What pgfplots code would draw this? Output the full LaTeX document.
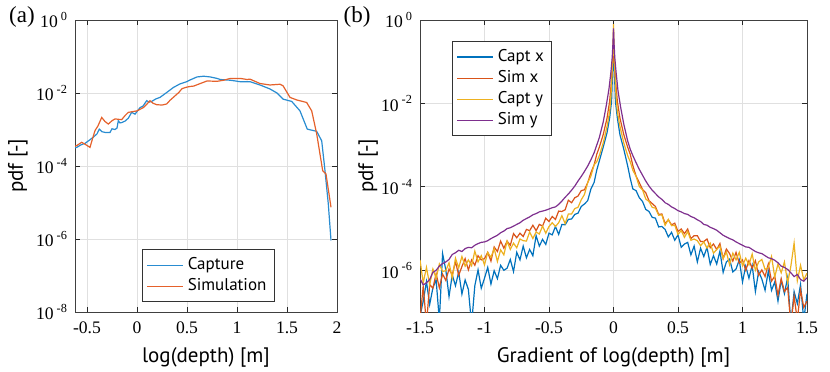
\documentclass[border=0pt]{standalone}
\usepackage{fontspec}
\setmainfont{PT Sans}
\newfontfamily\serif{Liberation Serif}
\usepackage{pgfplots}
\pgfplotsset{compat=1.18}

\definecolor{mblue}{rgb}{0,0.447,0.741}
\definecolor{morange}{rgb}{0.85,0.325,0.098}
\definecolor{myellow}{rgb}{0.929,0.694,0.125}
\definecolor{mpurple}{rgb}{0.494,0.184,0.556}
\definecolor{lblue}{rgb}{0.16,0.55,0.82}
\definecolor{lorange}{rgb}{0.9,0.38,0.17}

\pgfplotsset{
  matlab/.style={
    scale only axis, height=146pt,
    axis line style={black!75, line width=0.5pt},
    grid=major, grid style={black!12, line width=0.5pt},
    major tick style={black!85, line width=0.5pt}, major tick length=2.5pt,
    tick align=inside,
    tick label style={font=\serif\fontsize{8.8}{10}\selectfont},
    xticklabel style={yshift=-1.5pt},
    label style={font=\fontsize{10.5}{12}\selectfont},
    legend style={font=\fontsize{8.5}{10}\selectfont, draw=black!80, line width=0.5pt,
      fill=white, inner sep=2pt, row sep=-1pt},
    legend cell align=left,
    legend image code/.code={\draw[##1] (0pt,0pt) -- (18pt,0pt);},
    every axis plot/.append style={line width=0.6pt, mark=none},
  }
}

\begin{document}
\begin{tikzpicture}
% (a) depth distribution
\begin{axis}[matlab,
    width=131pt,
    xmin=-0.62, xmax=2, ymin=-8, ymax=0,
    xtick={-0.5,0,0.5,1,1.5,2},
    xticklabels={-0.5,0,0.5,1,1.5,2},
    ytick={-8,-6,-4,-2,0},
    yticklabels={10\,\textsuperscript{-8},10\,\textsuperscript{-6},10\,\textsuperscript{-4},10\,\textsuperscript{-2},10\,\textsuperscript{0}},
    xlabel={log(depth) [m]}, ylabel={pdf [-]},
    xlabel style={at={(axis description cs:0.5,-0.154)}, anchor=center},
    ylabel style={at={(axis description cs:-0.218,0.5)}, anchor=center},
    legend style={at={(0.256,0.215)}, anchor=north west},
]
\addplot[lblue] coordinates {
(-0.62,-3.50) (-0.603,-3.49) (-0.56,-3.42) (-0.52,-3.38) (-0.48,-3.30) (-0.437,-3.21)
(-0.40,-3.12) (-0.377,-2.99) (-0.35,-3.06) (-0.32,-3.08) (-0.27,-3.08) (-0.25,-2.98)
(-0.22,-3.0) (-0.20,-2.96) (-0.187,-2.76) (-0.17,-2.82) (-0.153,-2.81) (-0.12,-2.77)
(-0.087,-2.69) (-0.053,-2.53) (-0.02,-2.58) (0.03,-2.40) (0.06,-2.36) (0.097,-2.21)
(0.12,-2.25) (0.147,-2.23) (0.19,-2.16) (0.23,-2.12) (0.3,-1.98) (0.363,-1.85)
(0.43,-1.75) (0.497,-1.69) (0.533,-1.64) (0.6,-1.56) (0.667,-1.54) (0.733,-1.56)
(0.8,-1.6) (0.833,-1.63) (0.933,-1.65) (1.033,-1.69) (1.13,-1.69) (1.23,-1.78)
(1.33,-1.89) (1.40,-2.0) (1.463,-2.17) (1.547,-2.23) (1.63,-2.49) (1.703,-2.99)
(1.797,-3.05) (1.847,-3.31) (1.88,-4.13) (1.913,-5.04) (1.94,-6.04)
};
\addplot[lorange] coordinates {
(-0.62,-3.46) (-0.603,-3.44) (-0.553,-3.35) (-0.51,-3.42) (-0.47,-3.49) (-0.45,-3.3)
(-0.42,-3.03) (-0.39,-2.9) (-0.353,-2.67) (-0.32,-2.78) (-0.287,-2.85) (-0.25,-2.76)
(-0.22,-2.71) (-0.153,-2.73) (-0.12,-2.62) (-0.087,-2.53) (0.0,-2.49) (0.063,-2.40)
(0.1,-2.3) (0.13,-2.21) (0.16,-2.28) (0.197,-2.32) (0.25,-2.33) (0.297,-2.30)
(0.33,-2.2) (0.363,-2.12) (0.42,-1.98) (0.45,-1.88) (0.497,-1.84) (0.533,-1.82)
(0.567,-1.81) (0.633,-1.74) (0.7,-1.67) (0.8,-1.68) (0.867,-1.65) (0.933,-1.60)
(1.033,-1.60) (1.1,-1.63) (1.13,-1.62) (1.23,-1.74) (1.33,-1.78) (1.43,-1.76)
(1.46,-1.8) (1.53,-2.12) (1.597,-2.19) (1.697,-2.26) (1.747,-2.49) (1.797,-3.12)
(1.857,-4.13) (1.89,-4.22) (1.94,-5.13)
};
\legend{Capture,Simulation}
\end{axis}

% (b) gradient distribution
\begin{axis}[matlab,
    at={(172.5pt,0pt)}, anchor=south west,
    width=193.5pt,
    xmin=-1.5, xmax=1.5, ymin=-7, ymax=0,
    xtick={-1.5,-1,-0.5,0,0.5,1,1.5},
    xticklabels={-1.5,-1,-0.5,0,0.5,1,1.5},
    ytick={-6,-4,-2,0},
    yticklabels={10\,\textsuperscript{-6},10\,\textsuperscript{-4},10\,\textsuperscript{-2},10\,\textsuperscript{0}},
    xlabel={Gradient of log(depth) [m]}, ylabel={pdf [-]},
    xlabel style={at={(axis description cs:0.5,-0.154)}, anchor=center},
    ylabel style={at={(axis description cs:-0.134,0.5)}, anchor=center},
    legend style={at={(0.083,0.928)}, anchor=north west},
]
\addplot[mblue] coordinates {
(-1.5,-7.1) (-1.475,-6.74) (-1.45,-6.27) (-1.425,-6.82) (-1.4,-6.42) (-1.375,-6.23)
(-1.35,-7.2) (-1.325,-5.6) (-1.3,-5.99) (-1.275,-6.63) (-1.25,-6.11) (-1.225,-6.37)
(-1.2,-6.04) (-1.175,-6.57) (-1.15,-6.23) (-1.125,-6.46) (-1.1,-7.3) (-1.075,-6.37)
(-1.05,-5.99) (-1.025,-6.43) (-1.0,-6.19) (-0.975,-5.93) (-0.95,-6.33) (-0.925,-6.01)
(-0.9,-6.20) (-0.875,-5.88) (-0.85,-6.00) (-0.825,-5.95) (-0.8,-5.74) (-0.775,-6.03)
(-0.75,-5.57) (-0.725,-5.75) (-0.7,-5.42) (-0.675,-5.70) (-0.65,-5.50) (-0.625,-5.65)
(-0.6,-5.17) (-0.575,-5.42) (-0.55,-5.26) (-0.525,-5.38) (-0.5,-5.11) (-0.475,-5.15)
(-0.45,-4.95) (-0.425,-5.14) (-0.4,-4.90) (-0.375,-4.91) (-0.35,-4.78) (-0.325,-4.77)
(-0.3,-4.66) (-0.275,-4.63) (-0.25,-4.47) (-0.225,-4.41) (-0.2,-4.33) (-0.175,-4.05)
(-0.15,-3.89) (-0.13,-3.6) (-0.11,-3.38) (-0.08,-3.05) (-0.05,-2.7) (-0.03,-2.35)
(-0.015,-1.95) (-0.01,-1.5) (-0.005,-1.1) (0,-0.8) (0.005,-1.1) (0.01,-1.5)
(0.015,-1.95) (0.03,-2.35) (0.05,-2.75) (0.08,-3.1) (0.11,-3.5) (0.13,-3.8)
(0.15,-4.05) (0.175,-4.09) (0.2,-4.26) (0.225,-4.35) (0.25,-4.54) (0.275,-4.59)
(0.3,-4.73) (0.325,-4.75) (0.35,-4.96) (0.375,-4.95) (0.4,-5.02) (0.425,-5.20)
(0.45,-5.09) (0.475,-5.28) (0.5,-5.15) (0.525,-5.45) (0.55,-5.37) (0.575,-5.33)
(0.6,-5.63) (0.625,-5.42) (0.65,-5.80) (0.675,-5.47) (0.7,-5.67) (0.725,-5.45)
(0.75,-5.86) (0.775,-5.65) (0.8,-5.85) (0.825,-5.54) (0.85,-6.05) (0.875,-5.80)
(0.9,-5.73) (0.925,-6.04) (0.95,-5.97) (0.975,-5.75) (1.0,-6.28) (1.025,-5.90)
(1.05,-6.19) (1.075,-5.88) (1.1,-6.51) (1.125,-6.03) (1.15,-6.21) (1.175,-6.48)
(1.2,-6.02) (1.225,-6.48) (1.25,-6.28) (1.275,-6.74) (1.3,-6.24) (1.325,-6.56)
(1.35,-6.17) (1.375,-7.3) (1.4,-6.51) (1.425,-6.80) (1.45,-6.34) (1.475,-7.2) (1.5,-6.56)
};
\addplot[morange] coordinates {
(-1.5,-7.2) (-1.475,-6.37) (-1.45,-7.3) (-1.425,-6.34) (-1.4,-6.43) (-1.375,-6.08)
(-1.35,-6.42) (-1.325,-6.09) (-1.3,-6.24) (-1.275,-5.97) (-1.25,-6.11) (-1.225,-5.79)
(-1.2,-6.12) (-1.175,-5.91) (-1.15,-5.72) (-1.125,-5.99) (-1.1,-5.75) (-1.075,-5.88)
(-1.05,-5.65) (-1.025,-5.75) (-1.0,-5.72) (-0.975,-5.57) (-0.95,-5.78) (-0.925,-5.44)
(-0.9,-5.55) (-0.875,-5.30) (-0.85,-5.47) (-0.825,-5.30) (-0.8,-5.40) (-0.775,-5.12)
(-0.75,-5.22) (-0.725,-5.11) (-0.7,-5.19) (-0.675,-5.02) (-0.65,-5.05) (-0.625,-4.92)
(-0.6,-5.05) (-0.575,-4.90) (-0.55,-4.94) (-0.525,-4.75) (-0.5,-4.83) (-0.475,-4.71)
(-0.45,-4.78) (-0.425,-4.58) (-0.4,-4.59) (-0.375,-4.55) (-0.35,-4.32) (-0.325,-4.38)
(-0.3,-4.26) (-0.275,-4.22) (-0.25,-4.09) (-0.225,-4.07) (-0.2,-3.90) (-0.175,-3.66)
(-0.15,-3.47) (-0.13,-3.22) (-0.11,-3.05) (-0.08,-2.75) (-0.05,-2.35) (-0.03,-1.95)
(-0.02,-1.6) (-0.01,-1.2) (-0.005,-0.95) (0,-0.7) (0.005,-0.95) (0.01,-1.2)
(0.02,-1.6) (0.03,-1.95) (0.05,-2.35) (0.08,-2.75) (0.11,-3.05) (0.13,-3.22)
(0.15,-3.49) (0.175,-3.74) (0.2,-3.90) (0.225,-4.06) (0.25,-4.14) (0.275,-4.33)
(0.3,-4.40) (0.325,-4.47) (0.35,-4.66) (0.375,-4.65) (0.4,-4.88) (0.425,-4.79)
(0.45,-4.91) (0.475,-4.87) (0.5,-5.07) (0.525,-5.01) (0.55,-5.12) (0.575,-5.01)
(0.6,-5.24) (0.625,-5.17) (0.65,-5.17) (0.675,-5.31) (0.7,-5.31) (0.725,-5.25)
(0.75,-5.46) (0.775,-5.37) (0.8,-5.50) (0.825,-5.36) (0.85,-5.72) (0.875,-5.49)
(0.9,-5.60) (0.925,-5.78) (0.95,-5.57) (0.975,-5.83) (1.0,-5.75) (1.025,-6.00)
(1.05,-5.77) (1.075,-5.95) (1.1,-5.77) (1.125,-6.12) (1.15,-5.99) (1.175,-6.15)
(1.2,-5.85) (1.225,-6.26) (1.25,-6.14) (1.275,-6.60) (1.3,-6.20) (1.325,-6.51)
(1.35,-6.41) (1.375,-7.3) (1.4,-6.62) (1.425,-7.2) (1.45,-6.47) (1.475,-6.89) (1.5,-6.74)
};
\addplot[myellow] coordinates {
(-1.5,-5.75) (-1.475,-6.3) (-1.45,-5.93) (-1.425,-6.35) (-1.4,-5.97) (-1.375,-6.19)
(-1.35,-5.85) (-1.325,-6.03) (-1.3,-6.01) (-1.275,-5.82) (-1.25,-6.19) (-1.225,-5.71)
(-1.2,-5.94) (-1.175,-5.67) (-1.15,-5.90) (-1.125,-5.75) (-1.1,-5.89) (-1.075,-5.54)
(-1.05,-5.80) (-1.025,-5.65) (-1.0,-5.87) (-0.975,-5.57) (-0.95,-5.69) (-0.925,-5.48)
(-0.9,-5.79) (-0.875,-5.51) (-0.85,-5.63) (-0.825,-5.30) (-0.8,-5.50) (-0.775,-5.35)
(-0.75,-5.46) (-0.725,-5.25) (-0.7,-5.29) (-0.675,-5.30) (-0.65,-5.08) (-0.625,-5.24)
(-0.6,-5.08) (-0.575,-5.13) (-0.55,-4.94) (-0.525,-5.11) (-0.5,-4.95) (-0.475,-4.86)
(-0.45,-4.95) (-0.425,-4.86) (-0.4,-4.69) (-0.375,-4.88) (-0.35,-4.65) (-0.325,-4.65)
(-0.3,-4.52) (-0.275,-4.49) (-0.25,-4.31) (-0.225,-4.18) (-0.2,-3.90) (-0.175,-3.74)
(-0.15,-3.47) (-0.13,-3.4) (-0.11,-3.25) (-0.08,-2.95) (-0.05,-2.55) (-0.03,-2.2)
(-0.02,-1.85) (-0.01,-1.2) (-0.005,-0.7) (0,-0.1) (0.005,-0.7) (0.01,-1.2)
(0.02,-1.85) (0.03,-2.2) (0.05,-2.55) (0.08,-2.95) (0.11,-3.25) (0.13,-3.4)
(0.15,-3.60) (0.175,-3.75) (0.2,-3.99) (0.225,-4.07) (0.25,-4.29) (0.275,-4.35)
(0.3,-4.49) (0.325,-4.51) (0.35,-4.68) (0.375,-4.67) (0.4,-4.92) (0.425,-4.78)
(0.45,-4.93) (0.475,-4.92) (0.5,-5.14) (0.525,-5.05) (0.55,-5.21) (0.575,-5.07)
(0.6,-5.28) (0.625,-5.25) (0.65,-5.29) (0.675,-5.41) (0.7,-5.32) (0.725,-5.47)
(0.75,-5.35) (0.775,-5.59) (0.8,-5.50) (0.825,-5.42) (0.85,-5.72) (0.875,-5.56)
(0.9,-5.87) (0.925,-5.59) (0.95,-5.75) (0.975,-5.57) (1.0,-5.89) (1.025,-5.71)
(1.05,-5.87) (1.075,-5.61) (1.1,-6.00) (1.125,-5.80) (1.15,-5.74) (1.175,-5.98)
(1.2,-5.93) (1.225,-5.67) (1.25,-6.16) (1.275,-5.85) (1.3,-6.06) (1.325,-5.80)
(1.35,-6.30) (1.375,-5.90) (1.4,-5.35) (1.425,-6.25) (1.45,-5.88) (1.475,-6.23) (1.5,-6.07)
};
\addplot[mpurple] coordinates {
(-1.5,-6.2) (-1.475,-6.35) (-1.45,-6.3) (-1.425,-6.22) (-1.4,-6.05) (-1.375,-6.0)
(-1.35,-5.9) (-1.325,-5.84) (-1.3,-5.8) (-1.275,-5.74) (-1.25,-5.62) (-1.225,-5.58)
(-1.2,-5.52) (-1.175,-5.55) (-1.15,-5.48) (-1.125,-5.45) (-1.1,-5.46) (-1.075,-5.4)
(-1.05,-5.36) (-1.025,-5.33) (-1.0,-5.32) (-0.975,-5.29) (-0.95,-5.24) (-0.925,-5.2)
(-0.9,-5.16) (-0.875,-5.1) (-0.85,-5.06) (-0.825,-5.0) (-0.8,-4.98) (-0.775,-4.94)
(-0.75,-4.9) (-0.725,-4.86) (-0.7,-4.8) (-0.675,-4.76) (-0.65,-4.72) (-0.625,-4.67)
(-0.6,-4.64) (-0.575,-4.6) (-0.55,-4.58) (-0.525,-4.56) (-0.5,-4.53) (-0.475,-4.5)
(-0.45,-4.48) (-0.425,-4.42) (-0.4,-4.34) (-0.375,-4.25) (-0.35,-4.17) (-0.325,-4.08)
(-0.3,-3.98) (-0.275,-3.86) (-0.25,-3.75) (-0.225,-3.63) (-0.2,-3.5) (-0.175,-3.35)
(-0.15,-3.18) (-0.13,-3.0) (-0.11,-2.82) (-0.08,-2.45) (-0.056,-2.05) (-0.035,-1.65)
(-0.02,-1.25) (-0.01,-0.9) (-0.005,-0.6) (0,-0.2) (0.005,-0.6) (0.01,-0.9)
(0.02,-1.25) (0.035,-1.7) (0.056,-2.1) (0.08,-2.5) (0.11,-2.9) (0.13,-3.1)
(0.15,-3.25) (0.175,-3.42) (0.2,-3.58) (0.225,-3.72) (0.25,-3.86) (0.275,-3.98)
(0.3,-4.08) (0.325,-4.16) (0.35,-4.24) (0.375,-4.3) (0.4,-4.38) (0.425,-4.42)
(0.45,-4.48) (0.475,-4.52) (0.5,-4.57) (0.525,-4.6) (0.55,-4.64) (0.575,-4.66)
(0.6,-4.71) (0.625,-4.74) (0.65,-4.79) (0.675,-4.83) (0.7,-4.9) (0.725,-4.92)
(0.75,-4.97) (0.775,-5.0) (0.8,-5.04) (0.825,-5.1) (0.85,-5.16) (0.875,-5.2)
(0.9,-5.24) (0.925,-5.27) (0.95,-5.32) (0.975,-5.36) (1.0,-5.4) (1.025,-5.44)
(1.05,-5.45) (1.075,-5.5) (1.1,-5.55) (1.125,-5.58) (1.15,-5.6) (1.175,-5.65)
(1.2,-5.7) (1.225,-5.72) (1.25,-5.76) (1.275,-5.82) (1.3,-5.9) (1.325,-5.93)
(1.35,-5.98) (1.375,-6.06) (1.4,-6.15) (1.425,-6.1) (1.45,-6.22) (1.475,-6.26) (1.5,-6.18)
};
\legend{Capt x,Sim x,Capt y,Sim y}
\end{axis}

\node[font=\serif\fontsize{11.5}{13}\selectfont] at (-26.5pt,147.5pt) {(a)};
\node[font=\serif\fontsize{11.5}{13}\selectfont] at (141pt,147.5pt) {(b)};

\pgfresetboundingbox
\useasboundingbox (-37.5pt,-29.5pt) rectangle (377.5pt,156pt);
\end{tikzpicture}
\end{document}
